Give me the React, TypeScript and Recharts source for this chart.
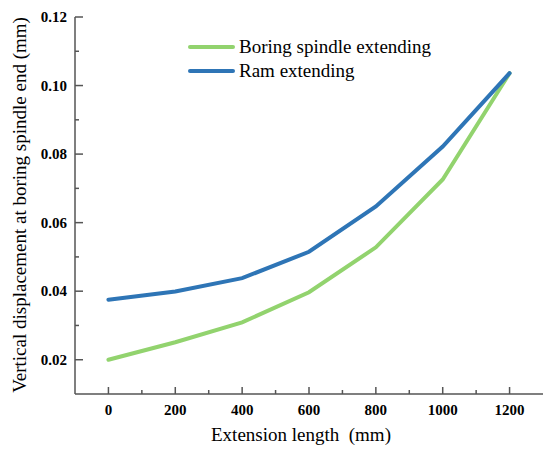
import React from 'react';
import { LineChart, Line, XAxis, YAxis, Label } from 'recharts';

// values
const extension = [0, 200, 400, 600, 800, 1000, 1200];
const boringSpindle = [0.02, 0.0251, 0.0309, 0.0397, 0.0528, 0.0726, 0.1036];
const ramExtending = [0.0375, 0.0399, 0.0438, 0.0515, 0.0647, 0.0822, 0.1036];

const xMajorTicks = [0, 200, 400, 600, 800, 1000, 1200];
const xMinorTicks = [100, 300, 500, 700, 900, 1100];
const yMajorTicks = [0.02, 0.04, 0.06, 0.08, 0.1, 0.12];
const yMinorTicks = [0.03, 0.05, 0.07, 0.09, 0.11];

const seriesNames = ['Boring spindle extending', 'Ram extending'];
const seriesColors = ['#92d36e', '#2e75b6'];

const data = extension.map((x, i) => ({
  x,
  boring: boringSpindle[i],
  ram: ramExtending[i],
}));

const serif = { fontFamily: 'Liberation Serif' };
const AXIS = '#555555';

const XTick = (props: any) => {
  const { x, y, payload } = props;
  const major = xMajorTicks.includes(payload.value);
  return (
    <g>
      <line x1={x} x2={x} y1={y} y2={y - (major ? 7 : 4)} stroke={AXIS} strokeWidth={1.5} />
      {major && (
        <text x={x} y={y + 21} textAnchor="middle" style={{ ...serif, fontWeight: 700, fontSize: 15 }} fill="#000">
          {payload.value}
        </text>
      )}
    </g>
  );
};

const YTick = (props: any) => {
  const { x, y, payload } = props;
  const major = yMajorTicks.some((t) => Math.abs(t - payload.value) < 1e-9);
  return (
    <g>
      <line x1={x} x2={x + (major ? 8 : 4)} y1={y} y2={y} stroke={AXIS} strokeWidth={1.5} />
      {major && (
        <text x={x - 8} y={y + 5} textAnchor="end" style={{ ...serif, fontWeight: 700, fontSize: 15 }} fill="#000">
          {payload.value.toFixed(2)}
        </text>
      )}
    </g>
  );
};

export default function App() {
  const xTicks = [...xMajorTicks, ...xMinorTicks].sort((a, b) => a - b);
  const yTicks = [...yMajorTicks, ...yMinorTicks].sort((a, b) => a - b);

  return (
    <div style={{ position: 'absolute', left: 0, top: 0 }}>
      <LineChart width={550} height={456} data={data} margin={{ top: 17, right: 7, left: 0, bottom: 0 }}>
        <XAxis
          dataKey="x"
          type="number"
          domain={[-100, 1300]}
          ticks={xTicks}
          interval={0}
          tickSize={0}
          tickMargin={0}
          tickLine={false}
          tick={(p: any) => <XTick {...p} />}
          height={62}
          axisLine={{ stroke: AXIS, strokeWidth: 1.5 }}
        >
          <Label
            content={() => (
              <text x={301} y={441} textAnchor="middle" style={{ ...serif, fontSize: 19, whiteSpace: 'pre' }} fill="#000">
                Extension length  (mm)
              </text>
            )}
          />
        </XAxis>
        <XAxis
          xAxisId="top"
          orientation="top"
          type="number"
          domain={[-100, 1300]}
          height={0}
          tick={false}
          tickLine={false}
          axisLine={{ stroke: AXIS, strokeWidth: 1.5 }}
        />
        <YAxis
          type="number"
          domain={[0.01, 0.12]}
          ticks={yTicks}
          interval={0}
          tickSize={0}
          tickMargin={0}
          tickLine={false}
          tick={(p: any) => <YTick {...p} />}
          width={75}
          axisLine={{ stroke: AXIS, strokeWidth: 1.5 }}
        >
          <Label
            content={() => (
              <text
                x={26}
                y={205}
                transform="rotate(-90 26 205)"
                textAnchor="middle"
                style={{ ...serif, fontSize: 19 }}
                fill="#000"
              >
                Vertical displacement at boring spindle end (mm)
              </text>
            )}
          />
        </YAxis>
        <YAxis
          yAxisId="right"
          orientation="right"
          type="number"
          domain={[0.01, 0.12]}
          width={0}
          tick={false}
          tickLine={false}
          axisLine={{ stroke: AXIS, strokeWidth: 1.5 }}
        />
        <Line
          type="linear"
          dataKey="boring"
          name={seriesNames[0]}
          stroke={seriesColors[0]}
          strokeWidth={4}
          strokeLinecap="round"
          dot={false}
          isAnimationActive={false}
        />
        <Line
          type="linear"
          dataKey="ram"
          name={seriesNames[1]}
          stroke={seriesColors[1]}
          strokeWidth={4}
          strokeLinecap="round"
          dot={false}
          isAnimationActive={false}
        />
      </LineChart>
      {/* legend drawn as an overlay so it does not shrink the plot */}
      <svg width={550} height={456} style={{ position: 'absolute', left: 0, top: 0, pointerEvents: 'none' }}>
        {seriesNames.map((name, i) => (
          <g key={name}>
            <line x1={190} x2={233} y1={47 + i * 24} y2={47 + i * 24} stroke={seriesColors[i]} strokeWidth={4} strokeLinecap="round" />
            <text x={239} y={53 + i * 24} style={{ ...serif, fontSize: 19 }} fill="#000">
              {name}
            </text>
          </g>
        ))}
      </svg>
    </div>
  );
}
